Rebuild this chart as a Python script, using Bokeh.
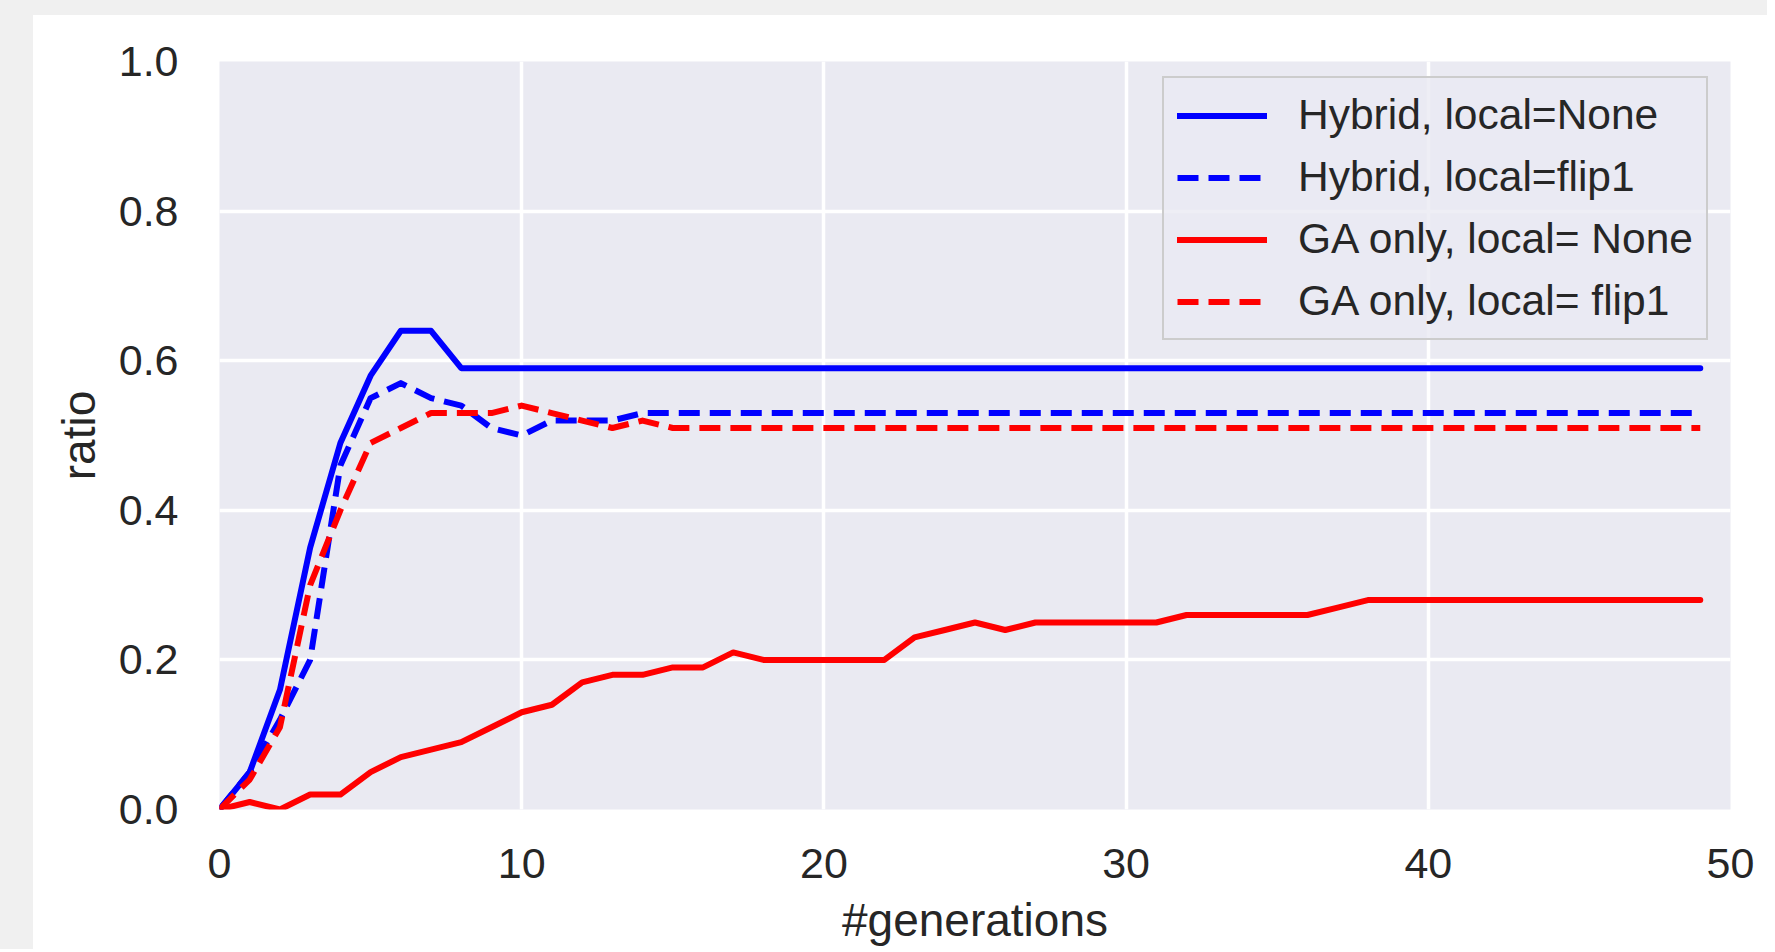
from bokeh.plotting import figure
from bokeh.models import (Range1d, FixedTicker, PrintfTickFormatter, Legend,
                          LegendItem, Spacer)
from bokeh.layouts import column, row
from bokeh.embed import file_html
from bokeh.resources import INLINE

# ---- data ----
generations = list(range(50))
hybrid_none = [0.00, 0.05, 0.16, 0.35, 0.49, 0.58, 0.64, 0.64, 0.59, 0.59,
               0.59, 0.59, 0.59, 0.59, 0.59, 0.59, 0.59, 0.59, 0.59, 0.59,
               0.59, 0.59, 0.59, 0.59, 0.59, 0.59, 0.59, 0.59, 0.59, 0.59,
               0.59, 0.59, 0.59, 0.59, 0.59, 0.59, 0.59, 0.59, 0.59, 0.59,
               0.59, 0.59, 0.59, 0.59, 0.59, 0.59, 0.59, 0.59, 0.59, 0.59]
hybrid_flip1 = [0.00, 0.05, 0.12, 0.20, 0.46, 0.55, 0.57, 0.55, 0.54, 0.51,
                0.50, 0.52, 0.52, 0.52, 0.53, 0.53, 0.53, 0.53, 0.53, 0.53,
                0.53, 0.53, 0.53, 0.53, 0.53, 0.53, 0.53, 0.53, 0.53, 0.53,
                0.53, 0.53, 0.53, 0.53, 0.53, 0.53, 0.53, 0.53, 0.53, 0.53,
                0.53, 0.53, 0.53, 0.53, 0.53, 0.53, 0.53, 0.53, 0.53, 0.53]
ga_none = [0.00, 0.01, 0.00, 0.02, 0.02, 0.05, 0.07, 0.08, 0.09, 0.11,
           0.13, 0.14, 0.17, 0.18, 0.18, 0.19, 0.19, 0.21, 0.20, 0.20,
           0.20, 0.20, 0.20, 0.23, 0.24, 0.25, 0.24, 0.25, 0.25, 0.25,
           0.25, 0.25, 0.26, 0.26, 0.26, 0.26, 0.26, 0.27, 0.28, 0.28,
           0.28, 0.28, 0.28, 0.28, 0.28, 0.28, 0.28, 0.28, 0.28, 0.28]
ga_flip1 = [0.00, 0.04, 0.11, 0.30, 0.40, 0.49, 0.51, 0.53, 0.53, 0.53,
            0.54, 0.53, 0.52, 0.51, 0.52, 0.51, 0.51, 0.51, 0.51, 0.51,
            0.51, 0.51, 0.51, 0.51, 0.51, 0.51, 0.51, 0.51, 0.51, 0.51,
            0.51, 0.51, 0.51, 0.51, 0.51, 0.51, 0.51, 0.51, 0.51, 0.51,
            0.51, 0.51, 0.51, 0.51, 0.51, 0.51, 0.51, 0.51, 0.51, 0.51]
labels = ["Hybrid, local=None", "Hybrid, local=flip1",
          "GA only, local= None", "GA only, local= flip1"]
x_ticks = [0, 10, 20, 30, 40, 50]
y_ticks = [0.0, 0.2, 0.4, 0.6, 0.8, 1.0]
x_title = "#generations"
y_title = "ratio"

FONT = "Liberation Sans"
TXT = "#262626"

p = figure(frame_width=1511, frame_height=748,
           min_border_left=186, min_border_right=37,
           min_border_top=46, min_border_bottom=140,
           x_range=Range1d(0, 50), y_range=Range1d(0, 1.0),
           output_backend="svg", toolbar_location=None,
           background_fill_color="#eaeaf2", border_fill_color="white",
           outline_line_color=None)

for ax in (p.xaxis[0], p.yaxis[0]):
    ax.axis_line_color = None
    ax.major_tick_line_color = None
    ax.minor_tick_line_color = None
    ax.major_tick_out = 0
    ax.major_tick_in = 0
    ax.major_label_text_font = FONT
    ax.major_label_text_font_size = "43px"
    ax.major_label_text_color = TXT
    ax.axis_label_text_font = FONT
    ax.axis_label_text_font_size = "46px"
    ax.axis_label_text_font_style = "normal"
    ax.axis_label_text_color = TXT

p.xaxis.ticker = FixedTicker(ticks=x_ticks)
p.yaxis.ticker = FixedTicker(ticks=y_ticks)
p.xaxis.formatter = PrintfTickFormatter(format="%d")
p.yaxis.formatter = PrintfTickFormatter(format="%.1f")
p.xaxis.axis_label = x_title
p.yaxis.axis_label = y_title
p.xaxis.major_label_standoff = 39
p.xaxis.axis_label_standoff = 13
p.yaxis.major_label_standoff = 41
p.yaxis.axis_label_standoff = 11

for g in (p.xgrid[0], p.ygrid[0]):
    g.grid_line_color = "white"
    g.grid_line_width = 3.5
p.xgrid.ticker = FixedTicker(ticks=x_ticks)
p.ygrid.ticker = FixedTicker(ticks=y_ticks)

LW = 6
DASH = "21 10"
r1 = p.line(generations, hybrid_none, line_color="#0000ff", line_width=LW,
            line_cap="round", line_join="round")
r2 = p.line(generations, hybrid_flip1, line_color="#0000ff", line_width=LW,
            line_dash=DASH, line_cap="butt", line_join="round")
r3 = p.line(generations, ga_none, line_color="#ff0000", line_width=LW,
            line_cap="round", line_join="round")
r4 = p.line(generations, ga_flip1, line_color="#ff0000", line_width=LW,
            line_dash=DASH, line_cap="butt", line_join="round")

legend = Legend(items=[LegendItem(label=labels[0], renderers=[r1]),
                       LegendItem(label=labels[1], renderers=[r2]),
                       LegendItem(label=labels[2], renderers=[r3]),
                       LegendItem(label=labels[3], renderers=[r4])],
                location=(943, 469), padding=13, spacing=14,
                glyph_width=90, glyph_height=43, label_height=43,
                label_standoff=31, label_text_font=FONT,
                label_text_font_size="42.5px", label_text_color=TXT,
                border_line_color="#cccccc", border_line_width=2.5,
                border_line_alpha=1.0,
                background_fill_color="#eaeaf2", background_fill_alpha=0.8)
p.add_layout(legend)

top = Spacer(width=1767, height=15, styles={"background-color": "#f0f0f0"})
left = Spacer(width=33, height=934, styles={"background-color": "#f0f0f0"})
layout = column(top, row(left, p))

open("out.html", "w").write(file_html(layout, INLINE))
